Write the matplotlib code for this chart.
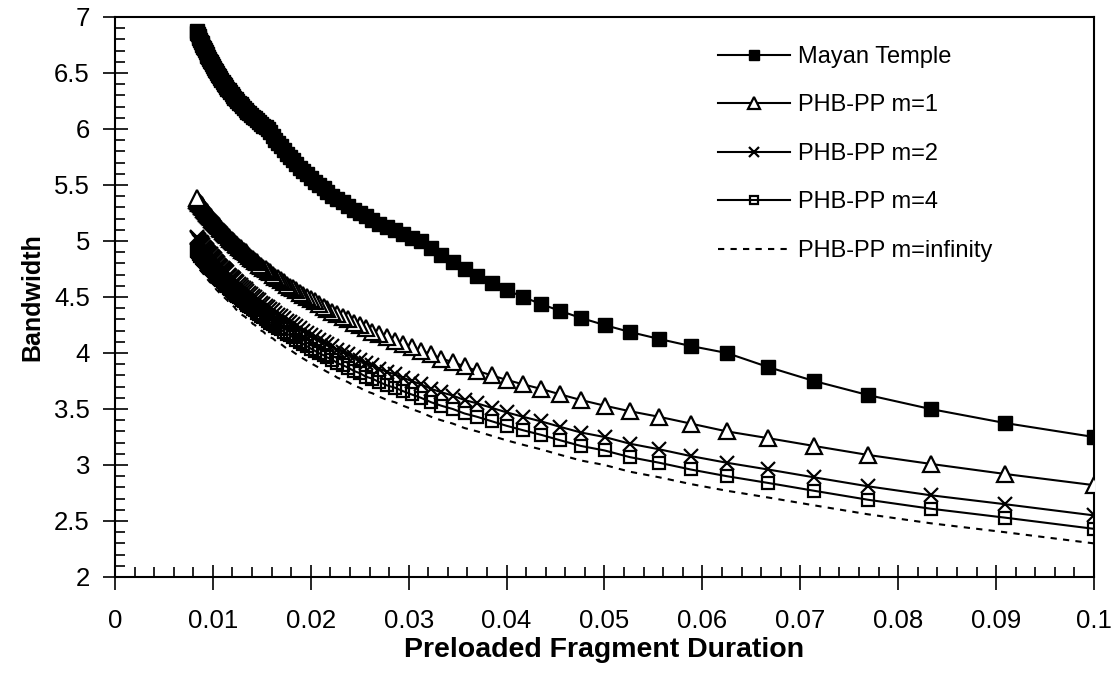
import matplotlib
matplotlib.use("Agg")
import matplotlib.pyplot as plt
from matplotlib.ticker import MultipleLocator, FormatStrFormatter

# preloaded fragment duration (1/n for n = 10 ... 120 segments)
duration = [
    0.1, 0.0909, 0.0833, 0.0769, 0.0714, 0.0667, 0.0625, 0.0588, 0.0556, 0.0526,
    0.05, 0.0476, 0.0455, 0.0435, 0.0417, 0.04, 0.0385, 0.0370, 0.0357, 0.0345,
    0.0333, 0.0323, 0.03125, 0.0303, 0.0294, 0.0286, 0.0278, 0.0270, 0.0263, 0.0256,
    0.025, 0.0244, 0.0238, 0.0233, 0.0227, 0.0222, 0.0217, 0.0213, 0.0208, 0.0204,
    0.02, 0.01961, 0.01923, 0.01887, 0.01852, 0.01818, 0.01786, 0.01754, 0.01724, 0.01695,
    0.01667, 0.01639, 0.01613, 0.01587, 0.01563, 0.01538, 0.01515, 0.01493, 0.01471, 0.01449,
    0.01429, 0.01408, 0.01389, 0.01370, 0.01351, 0.01333, 0.01316, 0.01299, 0.01282, 0.01266,
    0.0125, 0.01235, 0.01220, 0.01205, 0.01190, 0.01176, 0.01163, 0.01149, 0.01136, 0.01124,
    0.01111, 0.01099, 0.01087, 0.01075, 0.01064, 0.01053, 0.01042, 0.01031, 0.01020, 0.01010,
    0.01, 0.00990, 0.00980, 0.00971, 0.00962, 0.00952, 0.00943, 0.00935, 0.00926, 0.00917,
    0.00909, 0.00901, 0.00893, 0.00885, 0.00877, 0.00870, 0.00862, 0.00855, 0.00847, 0.00840,
    0.00833,
]

mayan = [
    3.25, 3.375, 3.5, 3.625, 3.75, 3.875, 4.0, 4.0625, 4.125, 4.1875,
    4.25, 4.3125, 4.375, 4.4375, 4.5, 4.5625, 4.625, 4.6875, 4.75, 4.8125,
    4.875, 4.9375, 5.0, 5.031, 5.063, 5.094, 5.125, 5.156, 5.188, 5.219,
    5.25, 5.281, 5.313, 5.344, 5.375, 5.406, 5.438, 5.469, 5.5, 5.531,
    5.563, 5.594, 5.625, 5.656, 5.688, 5.719, 5.75, 5.781, 5.813, 5.844,
    5.875, 5.906, 5.938, 5.969, 6.0, 6.016, 6.031, 6.047, 6.063, 6.078,
    6.094, 6.109, 6.125, 6.141, 6.156, 6.172, 6.188, 6.203, 6.219, 6.234,
    6.25, 6.266, 6.281, 6.297, 6.313, 6.328, 6.344, 6.359, 6.375, 6.391,
    6.406, 6.422, 6.438, 6.453, 6.469, 6.484, 6.5, 6.516, 6.531, 6.547,
    6.563, 6.578, 6.594, 6.609, 6.625, 6.641, 6.656, 6.672, 6.688, 6.703,
    6.719, 6.734, 6.75, 6.766, 6.781, 6.797, 6.813, 6.828, 6.844, 6.859,
    6.875,
]

phb_m1 = [
    2.82, 2.92, 3.01, 3.09, 3.17, 3.24, 3.30, 3.37, 3.43, 3.48,
    3.53, 3.58, 3.63, 3.68, 3.72, 3.76, 3.80, 3.84, 3.88, 3.92,
    3.95, 3.99, 4.02, 4.05, 4.08, 4.11, 4.14, 4.17, 4.19, 4.22,
    4.25, 4.27, 4.30, 4.32, 4.35, 4.37, 4.39, 4.41, 4.44, 4.46,
    4.48, 4.50, 4.52, 4.54, 4.56, 4.58, 4.59, 4.61, 4.63, 4.65,
    4.67, 4.68, 4.70, 4.72, 4.73, 4.75, 4.76, 4.78, 4.79, 4.81,
    4.82, 4.84, 4.85, 4.87, 4.88, 4.90, 4.91, 4.92, 4.94, 4.95,
    4.96, 4.97, 4.99, 5.00, 5.01, 5.02, 5.04, 5.05, 5.06, 5.07,
    5.08, 5.09, 5.11, 5.12, 5.13, 5.14, 5.15, 5.16, 5.17, 5.18,
    5.19, 5.20, 5.21, 5.22, 5.23, 5.24, 5.25, 5.26, 5.27, 5.28,
    5.29, 5.30, 5.31, 5.32, 5.33, 5.34, 5.34, 5.35, 5.36, 5.37,
    5.38,
]

phb_m2 = [
    2.55, 2.65, 2.73, 2.81, 2.89, 2.96, 3.02, 3.08, 3.14, 3.19,
    3.25, 3.29, 3.34, 3.39, 3.43, 3.47, 3.51, 3.55, 3.58, 3.62,
    3.65, 3.68, 3.72, 3.75, 3.78, 3.81, 3.83, 3.86, 3.89, 3.91,
    3.94, 3.96, 3.99, 4.01, 4.03, 4.06, 4.08, 4.10, 4.12, 4.14,
    4.16, 4.18, 4.20, 4.22, 4.24, 4.26, 4.28, 4.29, 4.31, 4.33,
    4.34, 4.36, 4.38, 4.39, 4.41, 4.42, 4.44, 4.45, 4.47, 4.48,
    4.50, 4.51, 4.53, 4.54, 4.55, 4.57, 4.58, 4.59, 4.61, 4.62,
    4.63, 4.64, 4.66, 4.67, 4.68, 4.69, 4.70, 4.72, 4.73, 4.74,
    4.75, 4.76, 4.77, 4.78, 4.79, 4.80, 4.81, 4.82, 4.84, 4.85,
    4.86, 4.87, 4.88, 4.88, 4.89, 4.90, 4.91, 4.92, 4.93, 4.94,
    4.95, 4.96, 4.97, 4.98, 4.99, 4.99, 5.00, 5.01, 5.02, 5.03,
    5.04,
]

phb_m4 = [
    2.43, 2.53, 2.61, 2.69, 2.77, 2.84, 2.90, 2.96, 3.02, 3.07,
    3.13, 3.17, 3.22, 3.27, 3.31, 3.35, 3.39, 3.43, 3.46, 3.50,
    3.53, 3.56, 3.60, 3.63, 3.66, 3.69, 3.71, 3.74, 3.77, 3.79,
    3.82, 3.84, 3.87, 3.89, 3.91, 3.94, 3.96, 3.98, 4.00, 4.02,
    4.04, 4.06, 4.08, 4.10, 4.12, 4.14, 4.16, 4.17, 4.19, 4.21,
    4.22, 4.24, 4.26, 4.27, 4.29, 4.30, 4.32, 4.33, 4.35, 4.36,
    4.38, 4.39, 4.41, 4.42, 4.43, 4.45, 4.46, 4.47, 4.49, 4.50,
    4.51, 4.52, 4.54, 4.55, 4.56, 4.57, 4.58, 4.60, 4.61, 4.62,
    4.63, 4.64, 4.65, 4.66, 4.67, 4.68, 4.69, 4.70, 4.72, 4.73,
    4.74, 4.75, 4.76, 4.76, 4.77, 4.78, 4.79, 4.80, 4.81, 4.82,
    4.83, 4.84, 4.85, 4.86, 4.87, 4.87, 4.88, 4.89, 4.90, 4.91,
    4.92,
]

phb_inf = [
    2.30, 2.40, 2.48, 2.56, 2.64, 2.71, 2.77, 2.83, 2.89, 2.94,
    3.00, 3.04, 3.09, 3.14, 3.18, 3.22, 3.26, 3.30, 3.33, 3.37,
    3.40, 3.43, 3.47, 3.50, 3.53, 3.56, 3.58, 3.61, 3.64, 3.66,
    3.69, 3.71, 3.74, 3.76, 3.78, 3.81, 3.83, 3.85, 3.87, 3.89,
    3.91, 3.93, 3.95, 3.97, 3.99, 4.01, 4.03, 4.04, 4.06, 4.08,
    4.09, 4.11, 4.13, 4.14, 4.16, 4.17, 4.19, 4.20, 4.22, 4.23,
    4.25, 4.26, 4.28, 4.29, 4.30, 4.32, 4.33, 4.34, 4.36, 4.37,
    4.38, 4.39, 4.41, 4.42, 4.43, 4.44, 4.45, 4.47, 4.48, 4.49,
    4.50, 4.51, 4.52, 4.53, 4.54, 4.55, 4.56, 4.57, 4.59, 4.60,
    4.61, 4.62, 4.63, 4.63, 4.64, 4.65, 4.66, 4.67, 4.68, 4.69,
    4.70, 4.71, 4.72, 4.73, 4.74, 4.74, 4.75, 4.76, 4.77, 4.78,
    4.79,
]

labels = ["Mayan Temple", "PHB-PP m=1", "PHB-PP m=2", "PHB-PP m=4", "PHB-PP m=infinity"]

plt.rcParams['font.family'] = ['Liberation Sans', 'DejaVu Sans']

fig = plt.figure(figsize=(11.11, 6.77), dpi=100)
ax = fig.add_axes([115 / 1111, 1 - 577 / 677, 979 / 1111, 560 / 677])

lw = 1.5
ax.plot(duration, mayan, color='black', lw=lw, marker='s', ms=10,
        mfc='black', mec='black', label=labels[0], zorder=3)
ax.plot(duration, phb_m1, color='black', lw=lw, marker='^', ms=11,
        mfc='white', mec='black', mew=1.6, label=labels[1], zorder=4)
ax.plot(duration, phb_m2, color='black', lw=lw, marker='x', ms=10,
        mec='black', mew=1.6, label=labels[2], zorder=5)
ax.plot(duration, phb_m4, color='black', lw=lw, marker='s', ms=8.5,
        mfc='none', mec='black', mew=1.6, label=labels[3], zorder=6)
ax.plot(duration, phb_inf, color='black', lw=lw, linestyle=(0, (3, 3)),
        label=labels[4], zorder=7)

ax.set_xlim(0, 0.1)
ax.set_ylim(2, 7)
ax.xaxis.set_major_locator(MultipleLocator(0.01))
ax.xaxis.set_minor_locator(MultipleLocator(0.002))
ax.yaxis.set_major_locator(MultipleLocator(0.5))
ax.yaxis.set_minor_locator(MultipleLocator(0.1))
ax.xaxis.set_major_formatter(FormatStrFormatter('%g'))
ax.yaxis.set_major_formatter(FormatStrFormatter('%g'))

for s in ax.spines.values():
    s.set_linewidth(1.5)
ax.tick_params(which='major', direction='inout', length=18, width=1.2,
               labelsize=18.5, top=False, right=False)
ax.tick_params(which='minor', direction='in', length=7, width=1.2,
               top=False, right=False)
ax.tick_params(axis='x', which='major', pad=14)
ax.tick_params(axis='y', which='major', pad=9)

ax.set_xlabel('Preloaded Fragment Duration', fontsize=20.5, fontweight='bold', labelpad=3)
ax.set_ylabel('Bandwidth', fontsize=18, fontweight='bold', labelpad=7)

leg = ax.legend(loc='upper left', bbox_to_anchor=(718 / 1111, 1 - 46 / 677),
                bbox_transform=fig.transFigure, frameon=False, borderpad=0,
                borderaxespad=0, handlelength=3.05, handletextpad=0.34,
                labelspacing=1.12, markerscale=0.75,
                prop={'size': 17})

fig.savefig('out.png', dpi=100)
